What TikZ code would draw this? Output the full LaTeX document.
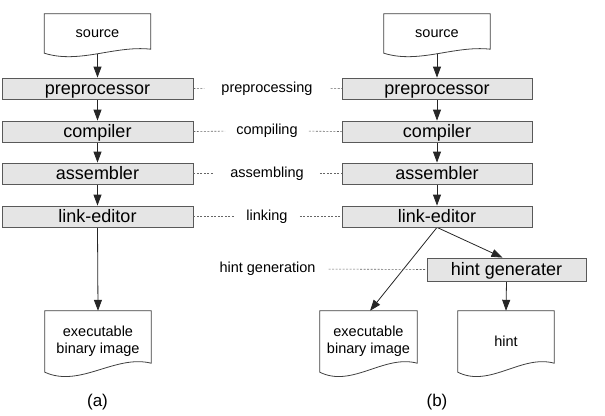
\documentclass[tikz,border=0pt]{standalone}
\usepackage{fontspec}
\setmainfont{Liberation Sans}
\usetikzlibrary{arrows.meta,calc}
\pgfdeclarelayer{bg}
\pgfdeclarelayer{mid}
\pgfsetlayers{bg,mid,main}
\newcommand\docoutline[4]{%
  \path[docline] (#1.north west) -- (#1.north east) -- ($(#1.south east)+(0,-#2)$)
    .. controls ($(#1.south west)!0.66!(#1.south east)+(0,#4)$) and ($(#1.south west)!0.33!(#1.south east)+(0,#3)$) .. (#1.south west) -- cycle;}
\begin{document}
\begin{tikzpicture}[x=1pt,y=-1pt,
  procbox/.style={draw=black!65,fill=black!10,line width=0.8pt,inner sep=0pt,minimum height=21pt,
    text height=16.5pt,text depth=4.5pt,font=\fontsize{18}{20}\selectfont},
  docnode/.style={inner sep=0pt,align=center,font=\fontsize{14.5}{17}\selectfont},
  docline/.style={draw=black!75,fill=white,line width=0.8pt},
  lab/.style={inner sep=0pt,font=\fontsize{14.5}{17}\selectfont},
  flow/.style={draw=black!85,line width=0.8pt,-{Triangle[length=11pt,width=8pt]}},
  guide/.style={draw=black!60,line width=0.6pt,dash pattern=on 2pt off 1.5pt},
  subcap/.style={inner sep=0pt,font=\fontsize{17}{19}\selectfont}]
\useasboundingbox (0,0) rectangle (605,415);
% (a)
\node[docnode,minimum width=106pt,minimum height=39pt] (srcA) at (97.5,33.5) {source};
\node[procbox,minimum width=191pt] (preA) at (97.5,88.5) {preprocessor};
\node[procbox,minimum width=191pt] (comA) at (97.5,131.5) {compiler};
\node[procbox,minimum width=191pt] (asmA) at (97.5,173.5) {assembler};
\node[procbox,minimum width=191pt] (lnkA) at (97.5,216.5) {link-editor};
\node[docnode,minimum width=106pt,minimum height=61pt] (exeA) at (98,341.5) {executable\\binary image};
\node[subcap] (capA) at (97.5,402) {(a)};
% (b)
\node[docnode,minimum width=106pt,minimum height=39pt] (srcB) at (437,33.5) {source};
\node[procbox,minimum width=190pt] (preB) at (437,88.5) {preprocessor};
\node[procbox,minimum width=190pt] (comB) at (437,131.5) {compiler};
\node[procbox,minimum width=190pt] (asmB) at (437,173.5) {assembler};
\node[procbox,minimum width=190pt] (lnkB) at (437,216.5) {link-editor};
\node[procbox,minimum width=159pt,minimum height=23pt] (hgen) at (506.5,269.5) {hint generater};
\node[docnode,minimum width=97pt,minimum height=61pt] (exeB) at (368.5,341.5) {executable\\binary image};
\node[docnode,minimum width=96pt,minimum height=61pt] (hint) at (506,341.5) {hint};
\node[subcap] (capB) at (437,402) {(b)};
% middle labels
\node[lab] (lpre) at (267,89) {preprocessing};
\node[lab] (lcom) at (267,131) {compiling};
\node[lab] (lasm) at (267,173.5) {assembling};
\node[lab] (llnk) at (267,216.5) {linking};
\node[lab] (lhg) at (267.5,269) {hint generation};
% guides
\draw[guide,shorten >=17pt] (preA.east) -- (lpre.west);
\draw[guide,shorten <=18pt] (lpre.east) -- (preB.west);
\draw[guide,shorten >=11pt] (comA.east) -- (lcom.west);
\draw[guide,shorten <=11pt] (lcom.east) -- (comB.west);
\draw[guide,shorten >=17pt] (asmA.east) -- (lasm.west);
\draw[guide,shorten <=16pt] (lasm.east) -- (asmB.west);
\draw[guide,shorten >=12pt] (lnkA.east) -- (llnk.west);
\draw[guide,shorten <=12pt] (llnk.east) -- (lnkB.west);
\draw[guide,shorten <=13pt] (lhg.east) -- (hgen.west);
% arrows
\begin{pgfonlayer}{bg}
\draw[flow] (srcA.south) -- (preA.north);
\draw[flow] (preA.south) -- (comA.north);
\draw[flow] (comA.south) -- (asmA.north);
\draw[flow] (asmA.south) -- (lnkA.north);
\draw[flow] (lnkA.south) -- (exeA.north);
\draw[flow] (srcB.south) -- (preB.north);
\draw[flow] (preB.south) -- (comB.north);
\draw[flow] (comB.south) -- (asmB.north);
\draw[flow] (asmB.south) -- (lnkB.north);
\draw[flow] (lnkB.south) -- ([xshift=1.5pt]exeB.north);
\draw[flow] (lnkB.south) -- ([xshift=-4pt]hgen.north);
\draw[flow] (hgen.south) -- (hint.north);
\end{pgfonlayer}
\begin{pgfonlayer}{mid}
\docoutline{srcA}{4}{11}{-8}
\docoutline{srcB}{4}{11}{-8}
\docoutline{exeA}{9}{16}{-18}
\docoutline{exeB}{9}{16}{-18}
\docoutline{hint}{9}{16}{-18}
\end{pgfonlayer}
\end{tikzpicture}
\end{document}
